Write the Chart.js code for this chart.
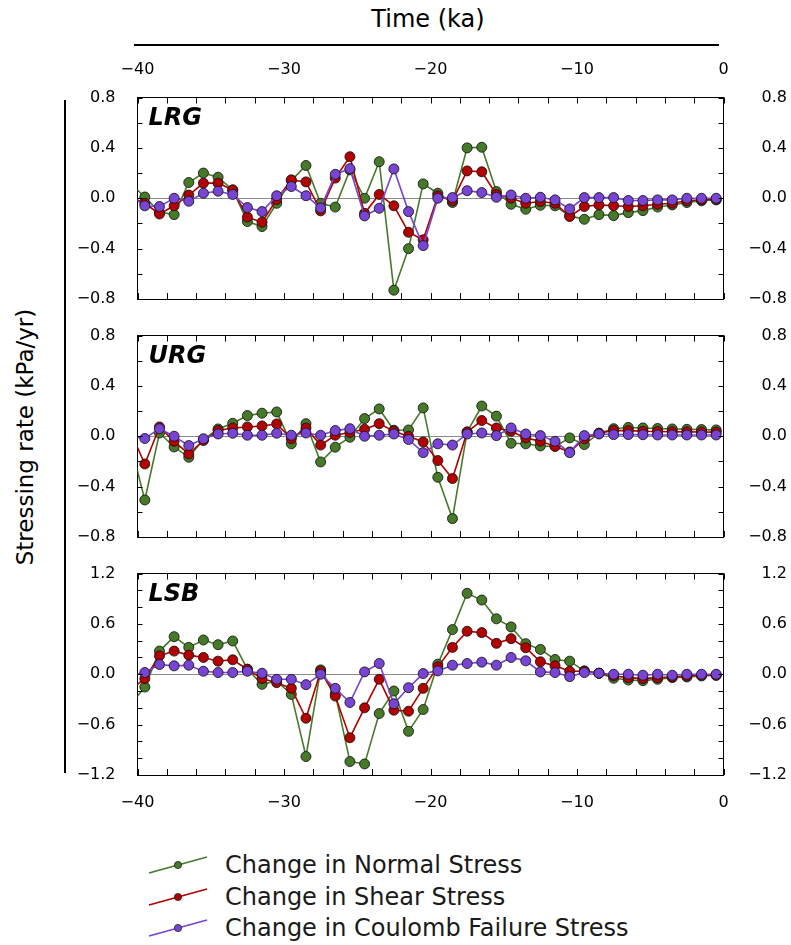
<!DOCTYPE html>
<html>
<head>
<meta charset="utf-8">
<script src="https://cdn.jsdelivr.net/npm/chart.js@4"></script>
<style>
  body { margin: 0; background: #fff; }
  #fig { position: relative; width: 791px; height: 945px; background: #fff; font-family: 'DejaVu Sans', sans-serif; color: #000; overflow: hidden; }
  #fig canvas { position: absolute; left: 0; }
  .abs { position: absolute; }
  .legrow { position: absolute; left: 148px; height: 26px; display: flex; align-items: center; font-size: 24px; color: #1a1a1a; white-space: nowrap; }
  .legrow svg { margin-right: 17px; }
</style>
</head>
<body>
<div id="fig">
  <div class="abs" style="left:278px;width:300px;top:5px;text-align:center;font-size:24px;">Time (ka)</div>
  <div class="abs" style="left:134px;width:585px;top:44px;height:2px;background:#000;"></div>
  <div class="abs" style="left:64px;top:100px;width:2px;height:673px;background:#000;"></div>
  <div class="abs" style="left:25px;top:437px;width:0;height:0;">
    <div style="position:absolute;transform:translate(-50%,-50%) rotate(-90deg);white-space:nowrap;font-size:23px;">Stressing rate (kPa/yr)</div>
  </div>
  <canvas id="c1" width="791" height="315" style="top:0px"></canvas>
  <canvas id="c2" width="791" height="230" style="top:318px"></canvas>
  <canvas id="c3" width="791" height="270" style="top:556px"></canvas>
  <div id="legend"></div>
</div>
<script>
// time of each sample (ka), first one lies just left of the axis
const timeKa = [-40.5, -39.5, -38.5, -37.5, -36.5, -35.5, -34.5, -33.5, -32.5, -31.5,
  -30.5, -29.5, -28.5, -27.5, -26.5, -25.5, -24.5, -23.5, -22.5, -21.5,
  -20.5, -19.5, -18.5, -17.5, -16.5, -15.5, -14.5, -13.5, -12.5, -11.5,
  -10.5, -9.5, -8.5, -7.5, -6.5, -5.5, -4.5, -3.5, -2.5, -1.5, -0.5];

const lrgNormal = [0.12, 0.01, -0.11, -0.13, 0.125, 0.2, 0.167, 0.066, -0.185, -0.225,
  -0.04, 0.14, 0.26, -0.04, -0.07, 0.225, 0.0, 0.29, -0.73, -0.40,
  0.114, 0.04, -0.034, 0.40, 0.405, 0.053, -0.048, -0.087, -0.056, -0.06,
  -0.14, -0.167, -0.13, -0.138, -0.114, -0.098, -0.07, -0.053, -0.034, -0.02, -0.013];
const lrgShear = [0.01, -0.04, -0.125, -0.06, 0.025, 0.12, 0.12, 0.066, -0.15, -0.19,
  -0.01, 0.146, 0.13, -0.1, 0.16, 0.33, -0.12, 0.03, -0.06, -0.27,
  -0.33, 0.02, -0.02, 0.217, 0.21, 0.03, 0.0, -0.04, -0.026, -0.04,
  -0.145, -0.066, -0.053, -0.06, -0.066, -0.06, -0.048, -0.04, -0.02, -0.013, -0.008];
const lrgCoulomb = [0.02, -0.06, -0.066, 0.0, -0.024, 0.04, 0.056, 0.03, -0.074, -0.106,
  0.02, 0.093, 0.02, -0.077, 0.19, 0.235, -0.14, -0.08, 0.233, -0.106,
  -0.376, 0.0, 0.005, 0.06, 0.045, 0.008, 0.026, 0.0, 0.008, -0.013,
  -0.085, 0.005, 0.005, 0.005, -0.018, -0.018, -0.013, -0.013, 0.0, 0.0, 0.0];

const urgNormal = [-0.05, -0.506, 0.026, -0.085, -0.167, -0.026, 0.058, 0.103, 0.164, 0.183,
  0.193, -0.06, 0.1, -0.204, -0.087, -0.008, 0.14, 0.217, 0.048, 0.05,
  0.225, -0.326, -0.654, 0.034, 0.24, 0.16, -0.056, -0.06, -0.077, -0.08,
  -0.013, -0.066, 0.024, 0.06, 0.07, 0.066, 0.062, 0.058, 0.055, 0.053, 0.05];
const urgShear = [0.04, -0.22, 0.074, -0.04, -0.14, -0.034, 0.045, 0.066, 0.074, 0.082,
  0.098, -0.02, 0.066, -0.07, 0.008, 0.03, 0.056, 0.1, 0.04, 0.0,
  -0.045, -0.193, -0.336, 0.034, 0.125, 0.066, 0.04, -0.013, -0.04, -0.08,
  -0.125, -0.02, 0.024, 0.045, 0.045, 0.04, 0.038, 0.036, 0.035, 0.034, 0.033];
const urgCoulomb = [0.0, -0.018, 0.06, 0.0, -0.074, -0.02, 0.018, 0.024, 0.008, 0.008,
  0.024, 0.008, 0.026, 0.008, 0.045, 0.06, 0.0, 0.008, 0.018, -0.026,
  -0.13, -0.06, -0.07, 0.018, 0.026, 0.005, 0.066, 0.018, 0.005, -0.04,
  -0.13, 0.005, 0.018, 0.013, 0.013, 0.012, 0.01, 0.01, 0.01, 0.01, 0.01];

const lsbNormal = [-0.37, -0.152, 0.276, 0.448, 0.32, 0.408, 0.352, 0.396, 0.06, -0.12,
  -0.08, -0.24, -0.98, 0.052, -0.232, -1.04, -1.068, -0.468, -0.2, -0.68,
  -0.42, 0.12, 0.532, 0.964, 0.884, 0.66, 0.564, 0.364, 0.296, 0.176,
  0.156, 0.04, 0.012, -0.048, -0.068, -0.076, -0.06, -0.04, -0.032, -0.02, -0.012];
const lsbShear = [-0.19, -0.052, 0.22, 0.276, 0.228, 0.2, 0.156, 0.172, 0.06, -0.052,
  -0.1, -0.168, -0.524, 0.036, -0.26, -0.756, -0.4, -0.06, -0.428, -0.44,
  -0.168, 0.088, 0.32, 0.512, 0.496, 0.368, 0.424, 0.316, 0.148, 0.1,
  0.036, 0.036, 0.012, -0.02, -0.04, -0.052, -0.04, -0.032, -0.02, -0.012, -0.012];
const lsbCoulomb = [-0.02, 0.02, 0.116, 0.1, 0.108, 0.036, 0.02, 0.02, 0.036, 0.012,
  -0.06, -0.06, -0.124, 0.0, -0.168, -0.336, 0.028, 0.128, -0.352, -0.16,
  0.008, 0.04, 0.108, 0.128, 0.144, 0.108, 0.2, 0.16, 0.028, 0.02,
  -0.028, 0.02, 0.012, 0.0, 0.0, -0.012, 0.0, -0.012, 0.0, 0.0, 0.0];

const seriesNames = ['Change in Normal Stress', 'Change in Shear Stress', 'Change in Coulomb Failure Stress'];
const seriesColors = ['#467a28', '#b30000', '#7744d4'];
const xTickLabels = [-40, -30, -20, -10, 0];

Chart.defaults.font.family = "'DejaVu Sans', sans-serif";
Chart.defaults.font.size = 16;
Chart.defaults.color = '#000';

const PLOT_LEFT = 137.5, PLOT_RIGHT = 723.5, RIGHT_PAD = 4, W = 791;

function fmt(v) {
  const s = Math.abs(v) < 1e-9 ? '0.0' : v.toFixed(1);
  return s.replace('-', '\u2212');
}

// matplotlib style ticks pointing into the plot
const innerTicks = {
  id: 'innerTicks',
  afterDraw(chart) {
    const {ctx, chartArea: a} = chart;
    ctx.save();
    ctx.strokeStyle = '#000';
    ctx.lineWidth = 1;
    Object.values(chart.scales).forEach(s => {
      const horiz = s.isHorizontal();
      const len = horiz ? 6 : 5;
      s.ticks.forEach(t => {
        const p = Math.round(s.getPixelForValue(t.value)) + 0.5;
        ctx.beginPath();
        if (horiz) {
          const y = s.position === 'top' ? a.top : a.bottom;
          ctx.moveTo(p, y);
          ctx.lineTo(p, y + (s.position === 'top' ? len : -len));
        } else {
          const x = s.position === 'left' ? a.left : a.right;
          ctx.moveTo(x, p);
          ctx.lineTo(x + (s.position === 'left' ? len : -len), p);
        }
        ctx.stroke();
      });
    });
    ctx.restore();
  }
};

const panelTitle = {
  id: 'panelTitle',
  afterDraw(chart, args, opts) {
    const {ctx, chartArea: a} = chart;
    ctx.save();
    ctx.font = "italic bold 24px 'DejaVu Sans'";
    ctx.fillStyle = '#000';
    ctx.textBaseline = 'alphabetic';
    ctx.fillText(opts.text, a.left + 11, a.top + 27);
    ctx.restore();
  }
};

function makePanel(id, title, normal, shear, coulomb, yMax, labelEvery, top, bottom, topLabels, bottomLabels) {
  const canvas = document.getElementById(id);
  const H = canvas.height;
  const pts = arr => timeKa.map((t, i) => ({x: t, y: arr[i]}));
  const ds = [normal, shear, coulomb].map((arr, i) => ({
    label: seriesNames[i],
    data: pts(arr),
    borderColor: seriesColors[i],
    backgroundColor: seriesColors[i],
    borderWidth: 1.6,
    pointRadius: 5,
    pointBorderWidth: 1,
    pointBorderColor: 'rgba(20,20,20,0.85)',
    pointBackgroundColor: seriesColors[i],
    tension: 0,
    order: 3 - i
  }));
  const xTicks = show => ({
    display: show,
    stepSize: 2,
    autoSkip: false,
    maxRotation: 0,
    padding: 18,
    callback: v => xTickLabels.includes(v) ? String(v).replace('-', '\u2212') : ''
  });
  const yTicks = (far) => ({
    stepSize: 0.2,
    autoSkip: false,
    padding: 22,
    crossAlign: far ? 'far' : 'near',
    callback: v => {
      const k = Math.round(v / labelEvery);
      return Math.abs(k * labelEvery - v) < 1e-6 ? fmt(v) : '';
    }
  });
  const border = {display: true, color: '#000', width: 1};
  // fixed box sizes so every panel sits at the same place as in the figure
  const fixH = h => s => { s.height = h; s.paddingLeft = 0; s.paddingRight = 0; };
  const fixW = w => s => { s.width = w; s.paddingTop = 0; s.paddingBottom = 0; };
  return new Chart(canvas, {
    type: 'line',
    data: {datasets: ds},
    plugins: [innerTicks, panelTitle],
    options: {
      responsive: false,
      animation: false,
      events: [],
      devicePixelRatio: 1,
      layout: {autoPadding: false, padding: {left: 0, right: RIGHT_PAD, top: 0, bottom: 0}},
      plugins: {legend: {display: false}, tooltip: {enabled: false}, panelTitle: {text: title}},
      scales: {
        x: {
          type: 'linear', position: 'bottom', min: -40, max: 0,
          grid: {display: false, drawTicks: false}, border,
          ticks: xTicks(bottomLabels),
          afterFit: fixH(H - bottom)
        },
        x2: {
          type: 'linear', position: 'top', min: -40, max: 0,
          grid: {display: false, drawTicks: false}, border,
          ticks: xTicks(topLabels),
          afterFit: fixH(top)
        },
        y: {
          type: 'linear', position: 'left', min: -yMax, max: yMax,
          grid: {
            display: true, drawTicks: false, lineWidth: 1,
            color: c => (c.tick && Math.abs(c.tick.value) < 1e-9) ? '#8a8a8a' : 'rgba(0,0,0,0)'
          },
          border,
          ticks: yTicks(false),
          afterFit: fixW(PLOT_LEFT)
        },
        y2: {
          type: 'linear', position: 'right', min: -yMax, max: yMax,
          grid: {display: false, drawTicks: false}, border,
          ticks: yTicks(true),
          afterFit: fixW(W - RIGHT_PAD - PLOT_RIGHT)
        }
      }
    }
  });
}

makePanel('c1', 'LRG', lrgNormal, lrgShear, lrgCoulomb, 0.8, 0.4, 97.5, 299, true, false);
makePanel('c2', 'URG', urgNormal, urgShear, urgCoulomb, 0.8, 0.4, 335.5 - 318, 537 - 318, false, false);
makePanel('c3', 'LSB', lsbNormal, lsbShear, lsbCoulomb, 1.2, 0.6, 573.5 - 556, 775 - 556, false, true);

// legend: slanted line with a small marker, then the series name
const legendTops = [852, 884, 915];
const legend = document.getElementById('legend');
seriesNames.forEach((name, i) => {
  const row = document.createElement('div');
  row.className = 'legrow';
  row.style.top = legendTops[i] + 'px';
  row.innerHTML =
    '<svg width="60" height="26" viewBox="0 0 60 26">' +
    '<line x1="1" y1="21" x2="59" y2="5" stroke="' + seriesColors[i] + '" stroke-width="1.8"/>' +
    '<circle cx="30" cy="13" r="3.6" fill="' + seriesColors[i] + '" stroke="#222" stroke-width="0.8"/>' +
    '</svg><span>' + name + '</span>';
  legend.appendChild(row);
});
</script>
</body>
</html>
